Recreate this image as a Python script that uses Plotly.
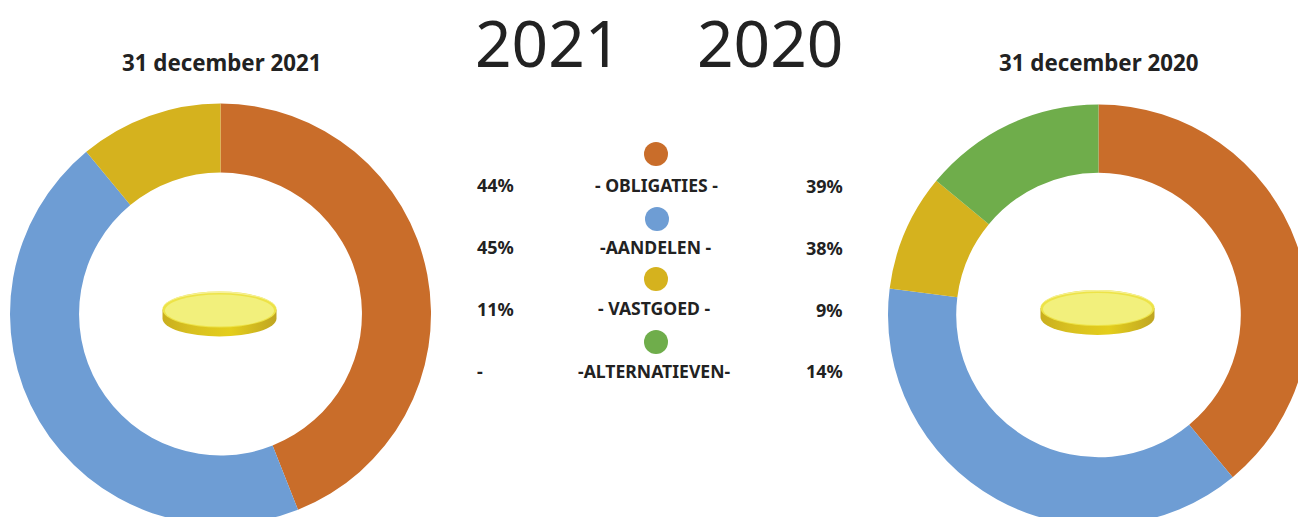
import base64
import plotly.graph_objects as go

categories = ["OBLIGATIES", "AANDELEN", "VASTGOED", "ALTERNATIEVEN"]
legend_labels = ["- OBLIGATIES -", "-AANDELEN -", "- VASTGOED -", "-ALTERNATIEVEN-"]
values_2021 = [44, 45, 11, 0]
values_2020 = [39, 38, 9, 14]
labels_2021 = ["44%", "45%", "11%", "-"]
labels_2020 = ["39%", "38%", "9%", "14%"]
colors = ["#C96D2A", "#6E9DD4", "#D5B21E", "#6FAD4B"]
titles = ["31 december 2021", "31 december 2020"]
years = ["2021", "2020"]

W, H = 1330, 545  # canvas runs past the window so the right and bottom of the rings are cropped
FONT = "Noto Sans"
INK = "#222222"


def domain(cx, cy, r):
    return dict(x=[(cx - r) / W, (cx + r) / W], y=[(H - cy - r) / H, (H - cy + r) / H])


fig = go.Figure()
for vals, dom, hole in ((values_2021, domain(220.5, 314, 210.5), 0.672),
                        (values_2020, domain(1098.5, 315, 210.5), 0.676)):
    fig.add_trace(go.Pie(
        labels=categories, values=vals, hole=hole, sort=False, direction="clockwise", rotation=0,
        marker=dict(colors=colors, line=dict(width=0)), textinfo="none", hoverinfo="label+percent",
        showlegend=False, domain=dom,
    ))

dot_x = [656, 657, 656, 656]
dot_y = [154, 219, 279, 342]
fig.add_trace(go.Scatter(x=dot_x, y=dot_y, mode="markers", showlegend=False, hoverinfo="skip",
                         marker=dict(size=24, color=colors, line=dict(width=0))))


def note(x, y, text, size=17.6, bold=True, anchor="center"):
    fig.add_annotation(x=x, y=y, xref="x", yref="y", text=f"<b>{text}</b>" if bold else text,
                       showarrow=False, xanchor=anchor, yanchor="middle",
                       font=dict(family=FONT, size=size, color=INK))


for y, t in zip([184.5, 246.5, 308.5, 370.5], labels_2021):
    note(475, y, t, size=18, anchor="left")
for y, t in zip([185.5, 247.5, 309.5, 370.5], labels_2020):
    note(845, y, t, size=18, anchor="right")
for x, y, t in zip([656.5, 656, 654, 654], [184.5, 246.5, 307.5, 370.5], legend_labels):
    note(x, y, t)
note(221, 62.5, titles[0], size=22.3)
note(1098, 62.5, titles[1], size=22.3)
note(547.5, 42, years[0], size=64, bold=False)
note(770, 42, years[1], size=64, bold=False)

coin_svg = """<svg xmlns='http://www.w3.org/2000/svg' width='116' height='50' viewBox='0 0 116 50'>
<defs><linearGradient id='s' x1='0' x2='1' y1='0' y2='0'>
<stop offset='0' stop-color='#C9AE1E'/><stop offset='0.25' stop-color='#D8C020'/>
<stop offset='0.6' stop-color='#E4CE1C'/><stop offset='1' stop-color='#BFA522'/></linearGradient></defs>
<path d='M1 20 L1 29 A57 18 0 0 0 115 29 L115 20 Z' fill='url(#s)'/>
<ellipse cx='58' cy='20' rx='57' ry='18' fill='#EDE348'/>
<path d='M1 20 A57 18 0 0 1 115 20 A57 16.5 0 0 0 1 20 Z' fill='#F6F19A'/>
<ellipse cx='58' cy='21' rx='54.5' ry='16' fill='#F2F07C'/>
</svg>"""
coin_src = "data:image/svg+xml;base64," + base64.b64encode(coin_svg.encode()).decode()
for cx, top in ((219.5, 289.5), (1097.5, 288)):
    fig.add_layout_image(source=coin_src, xref="x", yref="y", x=cx - 58, y=top, sizex=116, sizey=50,
                         xanchor="left", yanchor="top", sizing="stretch", layer="above")

fig.update_layout(
    width=W, height=H, autosize=False, margin=dict(l=0, r=0, t=0, b=0),
    paper_bgcolor="white", plot_bgcolor="rgba(0,0,0,0)", showlegend=False,
    xaxis=dict(range=[0, W], visible=False, domain=[0, 1], fixedrange=True),
    yaxis=dict(range=[H, 0], visible=False, domain=[0, 1], fixedrange=True),
)
fig.write_html("out.html", config=dict(displayModeBar=False),
               post_script="document.documentElement.style.overflow='hidden';document.body.style.margin='0';document.body.style.overflow='hidden';")
